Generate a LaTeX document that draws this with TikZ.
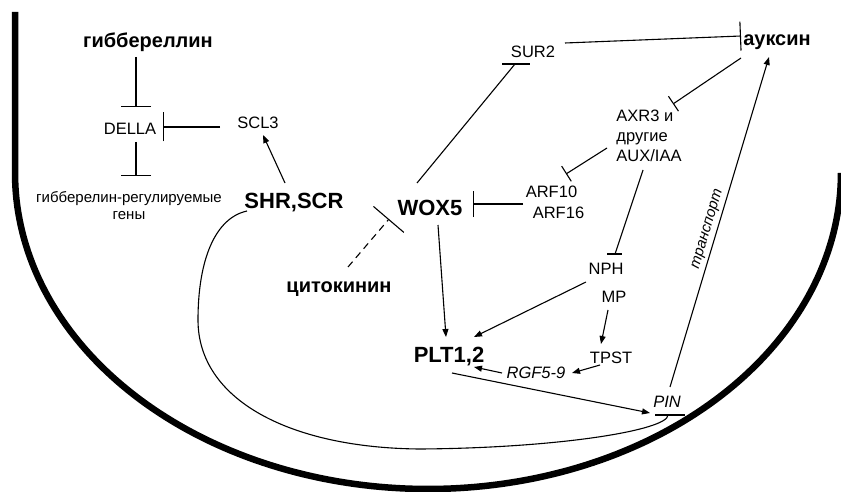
\documentclass[tikz,border=0pt]{standalone}
\usepackage{fontspec}
\setmainfont{Liberation Sans}
\usetikzlibrary{arrows.meta}
\begin{document}
\begin{tikzpicture}[x=1pt,y=-1pt,
  lbl/.style={font=\fontsize{16.5}{20}\selectfont, inner sep=0pt},
  big/.style={font=\fontsize{22}{26}\selectfont\bfseries, inner sep=0pt},
  hormone/.style={font=\fontsize{20}{23}\selectfont\bfseries, inner sep=0pt},
  conn/.style={line width=1.1pt},
  act/.style={conn, -{Triangle[length=8pt,width=6pt]}},
  inh/.style={conn, -{Bar[width=#1]}},
  wall/.style={line width=6.5pt, line cap=butt}
]
\useasboundingbox (0,0) rectangle (841,492);
\begin{scope}
\clip (0,0) rectangle (841,492);
\draw[wall] (15,12) -- (15,173) -- plot[domain=180:360, samples=150] ({428+413*cos(\x)},{173-316*sin(\x)});
\end{scope}

\node[hormone] (gib) at (148,42) {гиббереллин};
\node[lbl] (della) at (130,129) {DELLA};
\node[lbl] (scl3) at (258,123) {SCL3};
\node[lbl, font=\fontsize{15}{17}\selectfont, align=center] (genes) at (129,206) {гибберелин-регулируемые\\гены};
\node[big] (shr) at (294,203) {SHR,SCR};
\node[big] (wox) at (430,208) {WOX5};
\node[hormone] (cyto) at (339,289) {цитокинин};
\node[lbl] (sur2) at (533,52) {SUR2};
\node[hormone] (aux) at (777,42) {ауксин};
\node[lbl, align=left] (axr) at (649,136) {AXR3 и\\другие\\AUX/IAA};
\node[lbl, font=\fontsize{16.5}{21}\selectfont, align=left] (arf) at (555,202) {ARF10\\\hspace*{7pt}ARF16};
\node[lbl] (nph) at (606,269) {NPH};
\node[lbl] (mp) at (614,297) {MP};
\node[lbl] (tpst) at (611,358) {TPST};
\node[lbl] (rgf) at (536,373) {\itshape RGF5-9};
\node[big] (plt) at (449,357) {PLT1,2};
\node[lbl] (pin) at (667,402) {\itshape PIN};
\node[lbl, font=\fontsize{15}{18}\selectfont\itshape, rotate=73.3] (tr) at (708,229) {транспорт};

% gibberellin module
\draw[inh=30pt] ([shift={(-12,15)}]gib.center) -- ([shift={(6,-22)}]della.center);
\draw[inh=30pt] ([shift={(6,13)}]della.center) -- ([shift={(7,-30)}]genes.center);
\draw[inh=29pt] ([shift={(-38,4)}]scl3.center) -- ([shift={(33,-2)}]della.center);
\draw[act] ([shift={(-9,-20)}]shr.center) -- ([shift={(5,12)}]scl3.center);

% cytokinin
\draw[inh=40pt, dash pattern=on 7pt off 5pt] ([shift={(9,-22)}]cyto.center) -- ([shift={(-41,11)}]wox.center);

% WOX5 / SUR2 / auxin
\draw[conn] ([shift={(-13,-25)}]wox.center) -- ([shift={(-18,12)}]sur2.center);
\draw[conn] ([shift={(-31,12)}]sur2.center) -- ([shift={(-3,12)}]sur2.center);
\draw[inh=26pt] ([shift={(-32,2)}]arf.center) -- ([shift={(43,-4)}]wox.center);
\draw[inh=29pt] ([shift={(32,-9)}]sur2.center) -- ([shift={(-36,-6)}]aux.center);
\draw[inh=18pt] ([shift={(-36,16)}]aux.center) -- ([shift={(24,-32)}]axr.center);
\draw[inh=18pt] ([shift={(-42,12)}]axr.center) -- ([shift={(11,-28)}]arf.center);
\draw[conn] ([shift={(-6,34)}]axr.center) -- ([shift={(9,-15)}]nph.center);
\draw[conn] ([shift={(1,-15)}]nph.center) -- ([shift={(16,-15)}]nph.center);

% PLT and downstream
\draw[act] ([shift={(-20,13)}]nph.center) -- ([shift={(25,-20)}]plt.center);
\draw[act] ([shift={(-6,13)}]mp.center) -- ([shift={(-10,-14)}]tpst.center);
\draw[act] ([shift={(-11,7)}]tpst.center) -- ([shift={(36,0)}]rgf.center);
\draw[act] ([shift={(-34,0)}]rgf.center) -- ([shift={(25,10)}]plt.center);
\draw[act] ([shift={(8,17)}]wox.center) -- ([shift={(-3,-20)}]plt.center);
\draw[act] ([shift={(3,16)}]plt.center) -- ([shift={(-17,11)}]pin.center);
\draw[act] ([shift={(3,-15)}]pin.center) -- ([shift={(-8,15)}]aux.center);

% SHR,SCR -| PIN
\draw[conn] ([shift={(-47,8)}]shr.center) .. controls (215,218) and (198,260) .. (198,320)
  .. controls (198,400) and (290,448) .. (420,449)
  .. controls (560,448) and (668,430) .. ([shift={(1,13)}]pin.center);
\draw[conn] ([shift={(-12,13)}]pin.center) -- ([shift={(18,13)}]pin.center);
\end{tikzpicture}
\end{document}
